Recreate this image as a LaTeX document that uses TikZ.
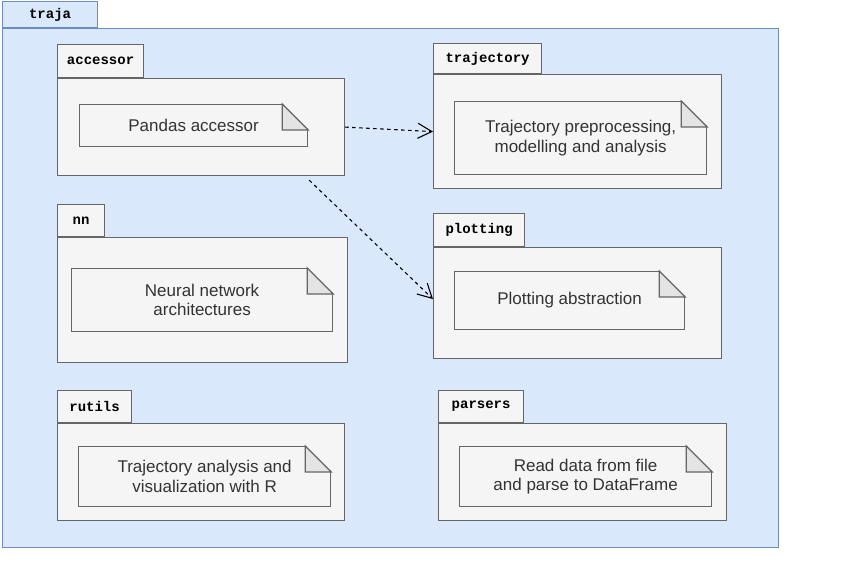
\documentclass[tikz,border=0pt]{standalone}
\usepackage{fontspec}
\setmainfont{Liberation Sans}
\setmonofont{Liberation Mono}
\usepackage{tikz}
\usetikzlibrary{arrows.meta}
\definecolor{outerfill}{HTML}{DAE8FC}
\definecolor{outerline}{HTML}{6C8EBF}
\definecolor{pkgfill}{HTML}{F5F5F5}
\definecolor{pkgline}{HTML}{666666}
\definecolor{foldfill}{HTML}{E4E4E4}
\definecolor{notetext}{HTML}{333333}
\tikzset{
  body/.style={draw=pkgline, fill=pkgfill, line width=1.2pt, inner sep=0pt, anchor=north west},
  tab/.style={draw=pkgline, fill=pkgfill, line width=1.2pt, inner sep=0pt, anchor=south west,
    minimum height=32pt, font=\fontsize{14}{16}\selectfont\ttfamily\bfseries},
  note/.style={draw=pkgline, fill=pkgfill, line width=1.2pt, inner sep=0pt, anchor=north west,
    align=center, text=notetext, font=\fontsize{17}{19.5}\selectfont},
  dep/.style={draw=black, line width=1.1pt, dash pattern=on 3.5pt off 3.5pt,
    -{Straight Barb[length=14pt,width=15pt]}}
}
\begin{document}
\begin{tikzpicture}[x=1pt, y=-1pt]
        \useasboundingbox (0,0) rectangle (843,577);
        \node[body, draw=outerline, fill=outerfill, minimum width=776pt, minimum height=519pt] (traja) at (2,28) {};
        \node[tab, draw=outerline, fill=outerfill, minimum width=95pt, minimum height=26pt] (trajatab) at (traja.north west) {traja};

        \node[body, minimum width=287pt, minimum height=97pt] (accessor) at (57,78) {};
        \node[tab, minimum width=86pt, minimum height=33pt] (acctab) at (accessor.north west) {accessor};
        \node[note, minimum width=228pt, minimum height=42pt] (accnote) at (79,104) {Pandas accessor};

        \node[body, minimum width=288pt, minimum height=114pt] (trajectory) at (433,74) {};
        \node[tab, minimum width=108pt, minimum height=30pt] (trajtab) at (trajectory.north west) {trajectory};
        \node[note, minimum width=252pt, minimum height=73pt] (trajnote) at (454,101) {Trajectory preprocessing,\\ modelling and analysis};

        \node[body, minimum width=290pt, minimum height=125pt] (nn) at (57,237) {};
        \node[tab, minimum width=47pt] (nntab) at (nn.north west) {nn};
        \node[note, minimum width=261pt, minimum height=63pt] (nnnote) at (71,268) {Neural network\\ architectures};

        \node[body, minimum width=288pt, minimum height=111pt] (plotting) at (433,247) {};
        \node[tab, minimum width=91pt, minimum height=33pt] (plottab) at (plotting.north west) {plotting};
        \node[note, minimum width=230pt, minimum height=58pt] (plotnote) at (454,271) {Plotting abstraction};

        \node[body, minimum width=287pt, minimum height=97pt] (rutils) at (57,423) {};
        \node[tab, minimum width=74pt] (rutab) at (rutils.north west) {rutils};
        \node[note, minimum width=252pt, minimum height=60pt] (runote) at (78,446) {Trajectory analysis and\\ visualization with R};

        \node[body, minimum width=288pt, minimum height=97pt] (parsers) at (438,423) {};
        \node[tab, minimum width=85pt] (parstab) at (parsers.north west) {parsers};
        \node[note, minimum width=252pt, minimum height=60pt] (parsnote) at (459,446) {Read data from file\\ and parse to DataFrame};

        % folded corners of the notes
        \foreach \n in {accnote, trajnote, nnnote, plotnote, runote, parsnote} {
          \fill[pkgfill] ([shift={(-26pt,1pt)}]\n.north east) -- ([shift={(1pt,1pt)}]\n.north east)
            -- ([shift={(1pt,-26pt)}]\n.north east) -- cycle;
          \filldraw[fill=foldfill, draw=pkgline, line width=1.2pt] ([xshift=-26pt]\n.north east)
            -- ([shift={(-26pt,-26pt)}]\n.north east) -- ([yshift=-26pt]\n.north east) -- cycle;
        }

        \draw[dep] (accessor.east) -- (trajectory.west);
        \draw[dep] ([xshift=-36pt, yshift=-4pt]accessor.south east) -- ([yshift=4pt]plotting.west);
\end{tikzpicture}
\end{document}
